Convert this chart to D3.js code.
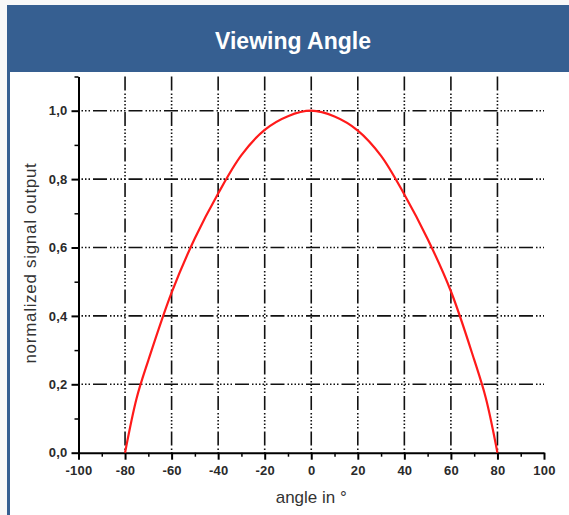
<!DOCTYPE html>
<html>
<head>
<meta charset="utf-8">
<script src="https://cdn.jsdelivr.net/npm/d3@7"></script>
<style>
  body { margin: 0; background: #f8f8f8; }
  svg { display: block; font-family: "Liberation Sans", Arial, sans-serif; }
</style>
</head>
<body>
<svg id="chart" width="569" height="515"></svg>
<script>
/* values */
var angles = [-80, -75, -70, -60, -50, -40, -30, -20, -10, 0, 10, 20, 30, 40, 50, 60, 70, 75, 80];
var signal = [0, 0.16, 0.27, 0.468, 0.627, 0.758, 0.87, 0.944, 0.984, 1.0, 0.983, 0.942, 0.868, 0.755, 0.625, 0.472, 0.272, 0.16, 0];
var xTicks = [-100, -80, -60, -40, -20, 0, 20, 40, 60, 80, 100];
var yTicks = [0, 0.2, 0.4, 0.6, 0.8, 1.0];
var xGrid = [-80, -60, -40, -20, 0, 20, 40, 60, 80];
var yGrid = [0.2, 0.4, 0.6, 0.8, 1.0];

var svg = d3.select('#chart');

// panel frame
svg.append('rect').attr('x', 7).attr('y', 5).attr('width', 562).attr('height', 67).attr('fill', '#365f91');
svg.append('rect').attr('x', 10).attr('y', 72).attr('width', 559).attr('height', 443).attr('fill', '#ffffff');
svg.append('rect').attr('x', 7).attr('y', 72).attr('width', 3).attr('height', 443).attr('fill', '#365f91');
svg.append('text')
  .attr('x', 293).attr('y', 49)
  .attr('text-anchor', 'middle')
  .style('font-size', '23px').style('font-weight', 'bold')
  .style('fill', '#ffffff')
  .text('Viewing Angle');

var x = d3.scaleLinear().domain([-100, 100]).range([78.5, 544]);
var y = d3.scaleLinear().domain([0, 1.1]).range([452.7, 76.5]);

var dash = '14,3,1.5,2,1.5,2,1.5,2,1.5,2,1.5,3';

// grid
svg.append('g').selectAll('line').data(xGrid).enter().append('line')
  .attr('x1', function(d){ return x(d); }).attr('x2', function(d){ return x(d); })
  .attr('y1', y(1.1)).attr('y2', y(0))
  .attr('stroke', '#111').attr('stroke-width', 1.6)
  .attr('stroke-dasharray', dash);
svg.append('g').selectAll('line').data(yGrid).enter().append('line')
  .attr('x1', x(-100)).attr('x2', x(100))
  .attr('y1', function(d){ return y(d); }).attr('y2', function(d){ return y(d); })
  .attr('stroke', '#111').attr('stroke-width', 1.6)
  .attr('stroke-dasharray', dash).attr('stroke-dashoffset', 21);

// minor ticks
var xMinor = d3.range(-90, 100, 20);
var yMinor = [0.1, 0.3, 0.5, 0.7, 0.9, 1.1];
svg.append('g').attr('transform', 'translate(0,' + y(0) + ')')
  .call(d3.axisBottom(x).tickValues(xMinor).tickSize(4).tickSizeOuter(0).tickFormat(''))
  .call(function(g){ g.select('.domain').remove(); g.selectAll('line').attr('stroke-width', 1.5); });
svg.append('g').attr('transform', 'translate(' + x(-100) + ',0)')
  .call(d3.axisLeft(y).tickValues(yMinor).tickSize(4).tickSizeOuter(0).tickFormat(''))
  .call(function(g){ g.select('.domain').remove(); g.selectAll('line').attr('stroke-width', 1.5); });

// main axes
var xAxis = svg.append('g').attr('transform', 'translate(0,' + y(0) + ')')
  .call(d3.axisBottom(x).tickValues(xTicks).tickSize(7).tickSizeOuter(0).tickPadding(6)
    .tickFormat(function(d){ return String(d); }));
var yAxis = svg.append('g').attr('transform', 'translate(' + x(-100) + ',0)')
  .call(d3.axisLeft(y).tickValues(yTicks).tickSize(7).tickSizeOuter(0).tickPadding(4)
    .tickFormat(function(d){ return d3.format('.1f')(d).replace('.', ','); }));
[xAxis, yAxis].forEach(function(g){
  g.select('.domain').attr('stroke', '#000').attr('stroke-width', 2);
  g.selectAll('.tick line').attr('stroke', '#000').attr('stroke-width', 2);
  g.selectAll('.tick text')
    .style('font-family', '"Liberation Sans", Arial, sans-serif')
    .style('font-size', '13px').style('font-weight', 'bold')
    .style('letter-spacing', '0.2px')
    .attr('fill', '#2a2a2a');
});

// curve
var line = d3.line()
  .x(function(d, i){ return x(angles[i]); })
  .y(function(d){ return y(d); })
  .curve(d3.curveCatmullRom.alpha(0.5));
svg.append('path').datum(signal)
  .attr('d', line)
  .attr('fill', 'none')
  .attr('stroke', '#ff1a1a')
  .attr('stroke-width', 2.2);

// axis titles
svg.append('text')
  .attr('x', x(0)).attr('y', 503)
  .attr('text-anchor', 'middle')
  .style('font-size', '17px').style('fill', '#333')
  .text('angle in °');
svg.append('text')
  .attr('transform', 'translate(36,' + 263 + ') rotate(-90)')
  .attr('text-anchor', 'middle')
  .style('font-size', '17px').style('fill', '#333')
  .style('letter-spacing', '0.7px')
  .text('normalized signal output');
</script>
</body>
</html>
